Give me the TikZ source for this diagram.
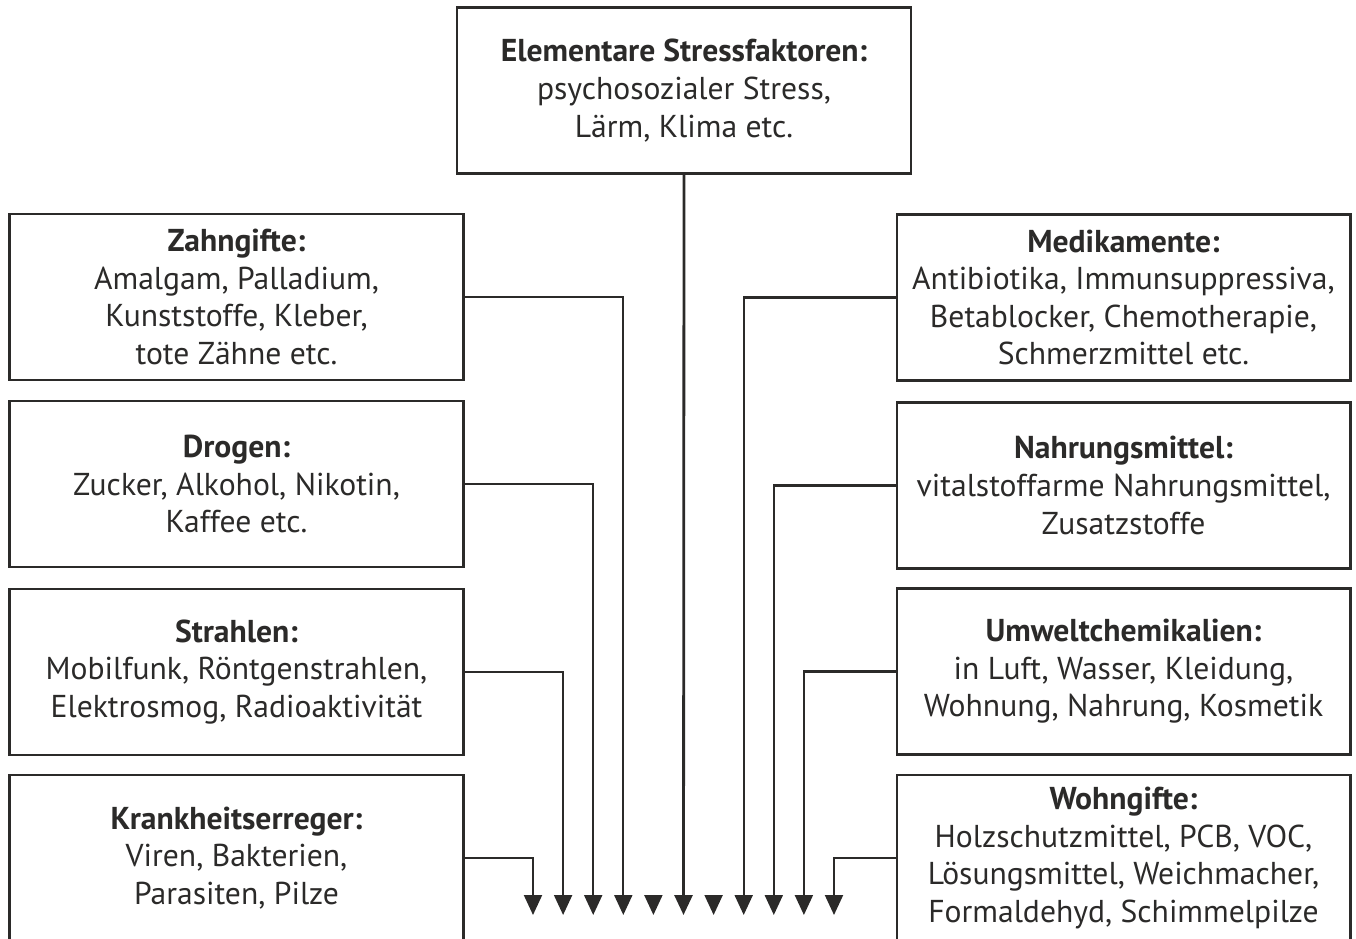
\documentclass[tikz,border=0pt]{standalone}
\usepackage{fontspec}
\setmainfont{PT Sans}
\usetikzlibrary{arrows.meta}
\definecolor{ink}{HTML}{2B2A29}
\tikzset{
  faktor/.style={draw=ink, line width=1.2pt, text=ink, minimum width=9.08cm, minimum height=3.32cm,
    inner sep=0pt, align=center, font=\fontsize{18}{21.4}\selectfont},
  pfeil/.style={draw=ink, line width=1.2pt, -{Triangle[width=0.36cm,length=0.4cm]}}
}
\begin{document}
\begin{tikzpicture}[x=0.02cm,y=-0.02cm]
\useasboundingbox (0,0) rectangle (1356,939);
\clip (0,0) rectangle (1356,939);
% oben
\node[faktor] (stress) at (684,90.5) {\textbf{Elementare Stressfaktoren:}\\psychosozialer Stress,\\Lärm, Klima etc.};
% links
\node[faktor] (zahn) at (236.5,297) {\textbf{Zahngifte:}\\Amalgam, Palladium,\\Kunststoffe, Kleber,\\tote Zähne etc.};
\node[faktor] (drogen) at (236.5,484) {\textbf{Drogen:}\\Zucker, Alkohol, Nikotin,\\Kaffee etc.};
\node[faktor] (strahlen) at (236.5,672) {\textbf{Strahlen:}\\Mobilfunk, Röntgenstrahlen,\\Elektrosmog, Radioaktivität};
\node[faktor] (erreger) at (236.5,858) {\textbf{Krankheitserreger:}\\Viren, Bakterien,\\Parasiten, Pilze};
% rechts
\node[faktor] (medi) at (1123.5,297.5) {\textbf{Medikamente:}\\Antibiotika, Immunsuppressiva,\\Betablocker, Chemotherapie,\\Schmerzmittel etc.};
\node[faktor] (nahrung) at (1123.5,485.5) {\textbf{Nahrungsmittel:}\\vitalstoffarme Nahrungsmittel,\\Zusatzstoffe};
\node[faktor] (umwelt) at (1123.5,671.5) {\textbf{Umweltchemikalien:}\\in Luft, Wasser, Kleidung,\\Wohnung, Nahrung, Kosmetik};
\node[faktor] (wohn) at (1123.5,858) {\textbf{Wohngifte:}\\Holzschutzmittel, PCB, VOC,\\Lösungsmittel, Weichmacher,\\Formaldehyd, Schimmelpilze};
% Pfeilspitzen
\foreach \i in {1,...,11}{
  \coordinate (b\i) at ({533+30.1*(\i-1)},895);
  \coordinate (t\i) at ({533+30.1*(\i-1)},915);
}
\draw[pfeil] (erreger.east) -| (t1);
\draw[pfeil] (strahlen.east) -| (t2);
\draw[pfeil] (drogen.east) -| (t3);
\draw[pfeil] (zahn.east) -| (t4);
\draw[pfeil] (b5) -- (t5);
\draw[pfeil, line width=1.6pt] (stress.south) -- (t6);
\draw[pfeil] (b7) -- (t7);
\draw[pfeil] (medi.west) -| (t8);
\draw[pfeil] (nahrung.west) -| (t9);
\draw[pfeil] (umwelt.west) -| (t10);
\draw[pfeil] (wohn.west) -| (t11);
\end{tikzpicture}
\end{document}
